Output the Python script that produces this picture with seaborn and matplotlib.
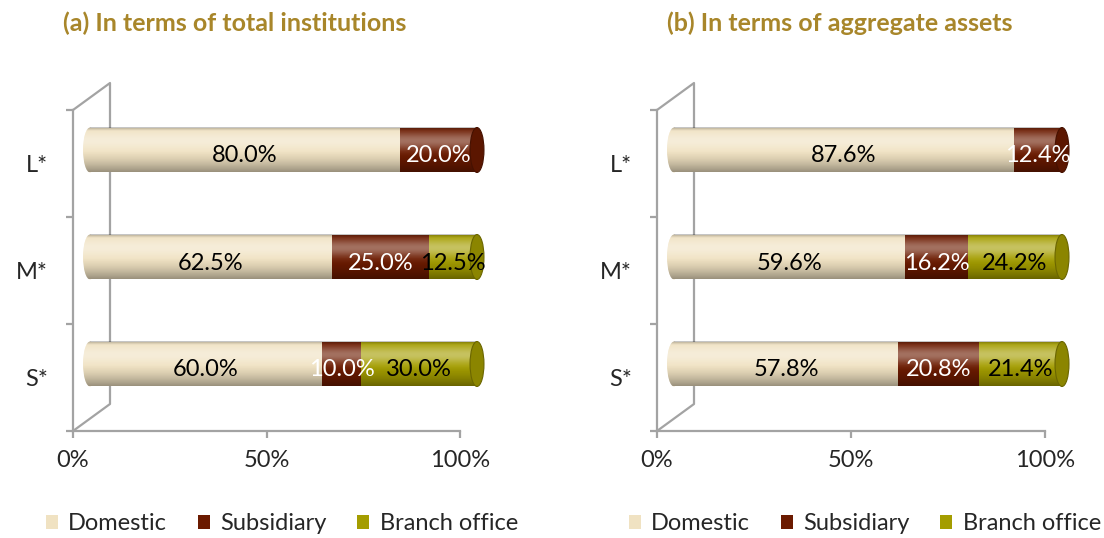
import numpy as np
import matplotlib
matplotlib.use("Agg")
import matplotlib.pyplot as plt
import seaborn as sns
from matplotlib.patches import Ellipse, Patch
from matplotlib.colors import to_rgb
from matplotlib.ticker import PercentFormatter
from matplotlib.transforms import offset_copy

# data
sizes = ["L*", "M*", "S*"]
series = ["Domestic", "Subsidiary", "Branch office"]
colors = ["#F0E2C2", "#6B1A00", "#A49D00"]
label_colors = ["black", "white", "black"]

inst_domestic = [80.0, 62.5, 60.0]
inst_subsidiary = [20.0, 25.0, 10.0]
inst_branch = [0.0, 12.5, 30.0]

asset_domestic = [87.6, 59.6, 57.8]
asset_subsidiary = [12.4, 16.2, 20.8]
asset_branch = [0.0, 24.2, 21.4]

titles = ["(a) In terms of total institutions", "(b) In terms of aggregate assets"]

sns.set_theme(style="white")
plt.rcParams["font.family"] = ["Lato", "DejaVu Sans"]

W, H = 1104, 538
fig = plt.figure(figsize=(W / 100, H / 100), dpi=100)
GRAY = "#A3A3A3"
FS = 17


def px_axes(x0, x1, y0, y1):
    return fig.add_axes([x0 / W, 1 - y1 / H, (x1 - x0) / W, (y1 - y0) / H])


def darker(c, f):
    r, g, b = to_rgb(c)
    return (r * f, g * f, b * f)


# vertical shading profile of a cylinder (top -> bottom)
N = 80
t = np.linspace(0, 1, N)
a_white = 0.38 * np.exp(-((t - 0.3) / 0.2) ** 2)
a_black = 0.36 * np.clip((t - 0.5) / 0.5, 0, 1) ** 1.6 + 0.25 * np.clip((0.08 - t) / 0.08, 0, 1)
white_layer = np.zeros((N, 1, 4))
white_layer[..., :3] = 1
white_layer[..., 3] = a_white[:, None]
black_layer = np.zeros((N, 1, 4))
black_layer[..., 3] = a_black[:, None]


def shade(ax, extent, clip=None, z=2):
    for layer in (white_layer, black_layer):
        im = ax.imshow(layer, extent=extent, aspect="auto", origin="upper",
                       interpolation="bilinear", zorder=z)
        if clip is not None:
            im.set_clip_path(clip)


def draw_panel(fl, fr, title, tx, lx, domestic, subsidiary, branch):
    top, bottom = 110, 431
    # 3D frame axes
    fax = px_axes(fl, fr, top, bottom)
    fax.set_xlim(0, 100)
    fax.set_ylim(0, 3)
    fax.patch.set_alpha(0)
    for s in ["top", "right"]:
        fax.spines[s].set_visible(False)
    for s in ["left", "bottom"]:
        fax.spines[s].set_color(GRAY)
        fax.spines[s].set_linewidth(1.6)
    dx = 37 / (fr - fl)
    dy = 27 / (bottom - top)
    fax.plot([0, dx, dx, 0], [1, 1 + dy, dy, 0], color=GRAY, lw=1.6,
             transform=fax.transAxes, clip_on=False)
    fax.set_xticks([0, 50, 100])
    fax.xaxis.set_major_formatter(PercentFormatter(decimals=0))
    fax.set_yticks([0, 1, 2, 3])
    fax.set_yticklabels([])
    fax.set_yticks([0.5, 1.5, 2.5], minor=True)
    fax.set_yticklabels(sizes[::-1], minor=True)
    fax.tick_params(axis="x", bottom=True, length=5, width=1.6, color=GRAY,
                    labelsize=FS, pad=9)
    fax.tick_params(axis="y", which="major", left=True, length=5, width=1.6, color=GRAY)
    fax.tick_params(axis="y", which="minor", left=True, length=0, labelsize=FS, pad=18)

    # bar axes, shifted to mid-depth
    bl = fl + 17
    sc = (fr - fl) / 100
    bax = px_axes(bl - 3 * sc, bl + 103 * sc, top - 13.5, bottom - 13.5)
    cum1 = np.add(domestic, subsidiary)
    cum2 = cum1 + np.array(branch)
    for vals, col in [(cum2, colors[2]), (cum1, colors[1]), (domestic, colors[0])]:
        sns.barplot(x=list(vals), y=sizes, orient="h", color=col, width=0.42,
                    saturation=1, errorbar=None, linewidth=0, ax=bax)
    bars = list(bax.patches)[:3]
    txt_tr = offset_copy(bax.transData, fig=fig, x=0, y=-6, units="dots")
    cw = 1.8
    for j, p in enumerate(bars):
        y0, h = p.get_y(), p.get_height()
        yc = y0 + h / 2
        total = p.get_width()
        shade(bax, (0, total, y0 + h, y0))
        # rounded left end
        le = Ellipse((0, yc), 2 * cw, h, facecolor=colors[0], edgecolor="none", zorder=1)
        bax.add_patch(le)
        shade(bax, (-cw, 0, y0 + h, y0), clip=le)
        # right end cap
        last = 2 if branch[j] > 0 else 1
        cap = Ellipse((total, yc), 2 * cw, h, facecolor=darker(colors[last], 0.85),
                      edgecolor=darker(colors[last], 0.65), lw=0.8, zorder=3)
        bax.add_patch(cap)
        # labels
        start = 0
        for k, v in enumerate([domestic[j], subsidiary[j], branch[j]]):
            if v > 0:
                bax.text(start + v / 2, yc, f"{v:.1f}%", ha="center", va="center",
                         fontsize=FS, color=label_colors[k], zorder=5,
                         transform=txt_tr)
            start += v
    bax.set_xlim(-3, 103)
    bax.set_ylim(2.5, -0.5)
    bax.axis("off")

    fig.text(tx / W, 1 - 23 / H, title, ha="center", va="center", fontsize=18,
             fontweight="bold", color="#A8862A")
    handles = [Patch(facecolor=c, edgecolor="none") for c in colors]
    fig.legend(handles=handles, labels=series, loc="center",
               bbox_to_anchor=(lx / W, 1 - 524 / H), ncol=3, frameon=False,
               fontsize=FS, handlelength=0.5, handleheight=0.5,
               handletextpad=0.45, columnspacing=1.3, borderpad=0)


draw_panel(73, 460, titles[0], 235, 282, inst_domestic, inst_subsidiary, inst_branch)
draw_panel(657, 1045, titles[1], 840, 865, asset_domestic, asset_subsidiary, asset_branch)

fig.savefig("out.png", dpi=100)
